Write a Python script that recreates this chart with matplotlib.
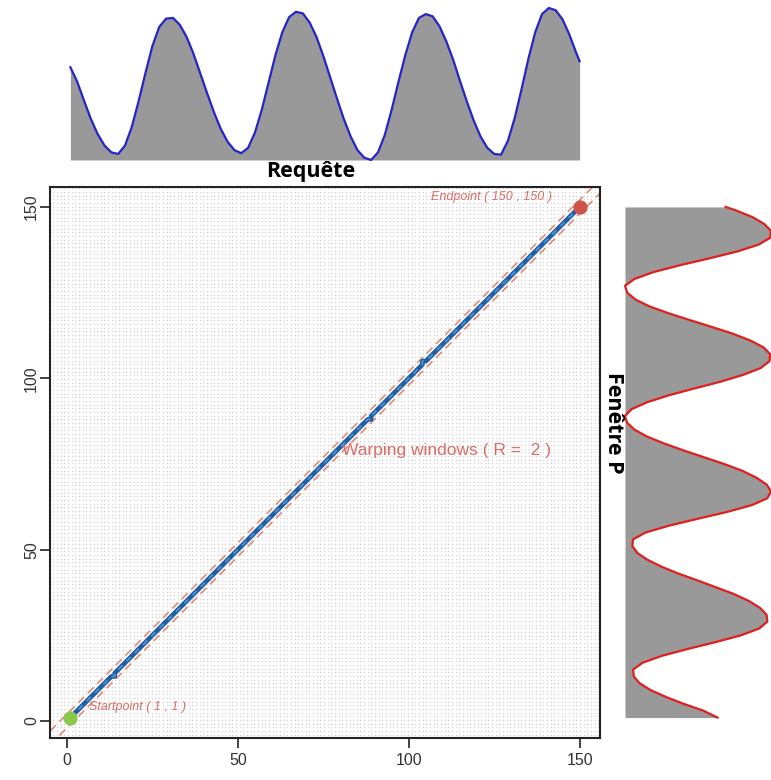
import numpy as np
import matplotlib
matplotlib.use("Agg")
import matplotlib.pyplot as plt

# indices ou les series sont lues (pas de 2, plus le dernier point)
idx = list(range(1, 150, 2)) + [150]

# serie requete (axe du haut)
requete = [0.22, 0.03, -0.22, -0.46, -0.66, -0.81, -0.90, -0.92, -0.81, -0.56,
           -0.22, 0.15, 0.50, 0.75, 0.86, 0.87, 0.78, 0.62, 0.40, 0.14,
           -0.12, -0.37, -0.59, -0.76, -0.87, -0.91, -0.84, -0.64, -0.34, 0.02,
           0.38, 0.68, 0.88, 0.95, 0.93, 0.81, 0.62, 0.37, 0.09, -0.19,
           -0.46, -0.69, -0.87, -0.97, -1.00, -0.90, -0.67, -0.34, 0.03, 0.38,
           0.68, 0.87, 0.92, 0.89, 0.76, 0.56, 0.32, 0.04, -0.23, -0.48,
           -0.69, -0.84, -0.92, -0.93, -0.75, -0.45, -0.07, 0.33, 0.68, 0.92,
           1.00, 0.97, 0.85, 0.65, 0.41, 0.30]

# serie de reference (fenetre P, axe de droite)
fenetre = [0.26, 0.07, -0.20, -0.44, -0.65, -0.80, -0.88, -0.89, -0.76, -0.50,
           -0.15, 0.23, 0.58, 0.83, 0.94, 0.93, 0.84, 0.69, 0.49, 0.24,
           -0.01, -0.27, -0.50, -0.69, -0.83, -0.90, -0.89, -0.72, -0.40, -0.01,
           0.39, 0.73, 0.94, 0.99, 0.93, 0.79, 0.60, 0.35, 0.07, -0.21,
           -0.47, -0.70, -0.87, -0.97, -1.00, -0.91, -0.70, -0.41, -0.06, 0.30,
           0.61, 0.85, 0.97, 0.98, 0.89, 0.71, 0.47, 0.18, -0.12, -0.41,
           -0.67, -0.86, -0.97, -1.00, -0.87, -0.61, -0.25, 0.15, 0.53, 0.82,
           0.98, 0.99, 0.90, 0.74, 0.51, 0.37]

# chemin de deformation (coins seulement, le reste est diagonal)
chemin_i = [1, 13, 14, 14, 88, 89, 89, 104, 104, 105, 150]
chemin_j = [1, 13, 13, 14, 88, 88, 89, 104, 105, 105, 150]

R = 2
debut = (1, 1)
fin = (150, 150)
ticks = [0, 50, 100, 150]

W, H = 771, 780
fig = plt.figure(figsize=(W / 100, H / 100), dpi=100)

def rect(x0, y0, x1, y1):
    # pixels -> coordonnees figure
    return [x0 / W, 1 - y1 / H, (x1 - x0) / W, (y1 - y0) / H]

lim = (1 - 0.04 * 149, 150 + 0.04 * 149)

# ---- matrice principale ----
ax = fig.add_axes(rect(50, 186.5, 600, 738))
ax.set_xlim(lim)
ax.set_ylim(lim)

g = np.arange(-4, 156, 1.07)
gx, gy = np.meshgrid(g, g)
ax.scatter(gx.ravel(), gy.ravel(), s=1.0, c="#d0d0d0", linewidths=0, zorder=1)

xx = np.array(lim)
for d in (-R, R):
    ax.plot(xx, xx + d, ls=(0, (5, 3)), color="#e28b78", lw=1.2, zorder=2)

ax.plot(chemin_i, chemin_j, color="#1f5fa5", lw=3.4, zorder=3)
ax.plot(chemin_i, chemin_j, color="#4d8fd1", lw=1.4, ls=(0, (3, 3)), zorder=4)

ax.scatter([debut[0]], [debut[1]], s=85, c="#8cc84b", zorder=5)
ax.scatter([fin[0]], [fin[1]], s=85, c="#d0534a", zorder=5)

tf = dict(family="Liberation Sans", color="#dc6b66")
ax.text(142, 153, "Endpoint ( %d , %d )" % fin, ha="right", va="center",
        style="italic", fontsize=9, **tf)
ax.text(6.5, 4, "Startpoint ( %d , %d )" % debut, ha="left", va="center",
        style="italic", fontsize=9, **tf)
ax.text(80.5, 79, "Warping windows ( R =  %d )" % R, ha="left", va="center",
        fontsize=12.5, **tf)

ax.set_xticks(ticks)
ax.set_yticks(ticks)
ax.tick_params(length=7, width=1.3, color="#333333", labelsize=11.5,
               labelcolor="#333333", pad=4)
ax.tick_params(axis="y", pad=1)
for lab in ax.get_xticklabels() + ax.get_yticklabels():
    lab.set_family("Liberation Sans")
for lab in ax.get_yticklabels():
    lab.set_rotation(90)
    lab.set_va("center")
for s in ax.spines.values():
    s.set_linewidth(1.5)
    s.set_color("#222222")

# ---- requete en haut ----
axh = fig.add_axes(rect(50, 8, 600, 160))
axh.set_xlim(lim)
axh.set_ylim(min(requete), max(requete))
axh.fill_between(idx, requete, min(requete), color="#999999", lw=0)
axh.plot(idx, requete, color="#2424c8", lw=1.6, clip_on=False)
axh.axis("off")

# ---- fenetre P a droite ----
axd = fig.add_axes(rect(625, 186.5, 771, 738))
axd.set_ylim(lim)
axd.set_xlim(min(fenetre), max(fenetre))
axd.fill_betweenx(idx, min(fenetre), fenetre, color="#999999", lw=0)
axd.plot(fenetre, idx, color="#e01f1f", lw=1.6, clip_on=False)
axd.axis("off")

fig.text(311 / W, 1 - 172 / H, "Requête", ha="center", va="center",
         fontsize=15.5, fontweight="bold", family="Open Sans")
fig.text(614 / W, 1 - 423 / H, "Fenêtre P", ha="center", va="center",
         rotation=270, fontsize=15.5, fontweight="bold", family="Open Sans")

fig.savefig("out.png", dpi=100)
